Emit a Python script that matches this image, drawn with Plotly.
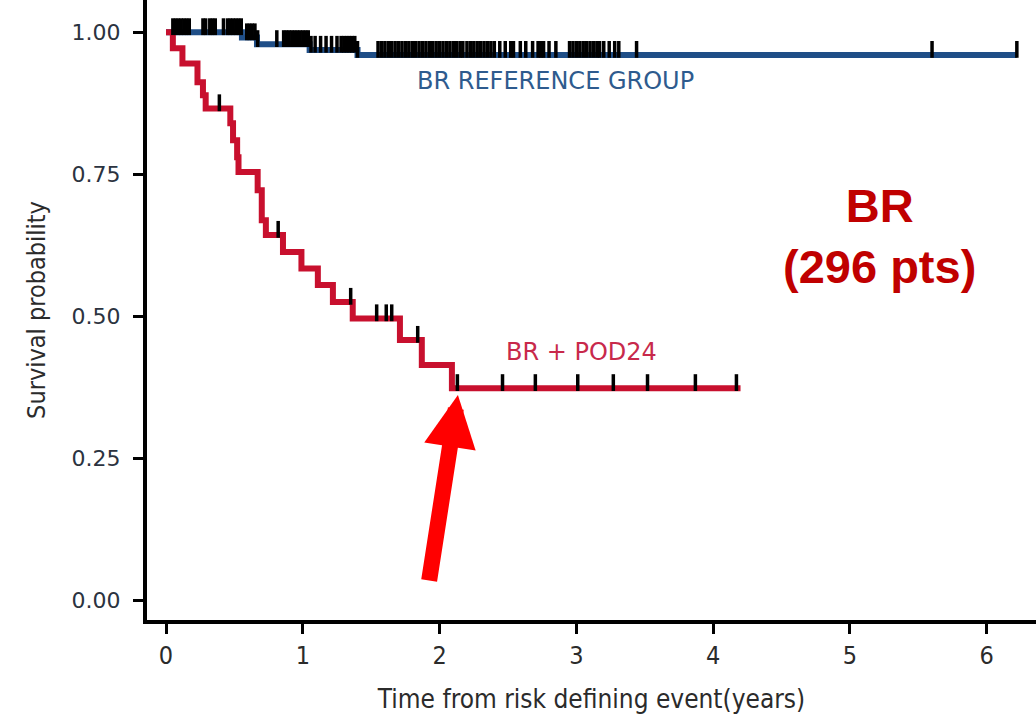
import plotly.graph_objects as go
import numpy as np

# ---------------- data ----------------
blue_times = [0.0, 0.555, 0.665, 1.05, 1.40, 6.22]
blue_surv = [1.0, 0.991, 0.979, 0.969, 0.960, 0.960]

red_times = [0.0, 0.05, 0.12, 0.23, 0.27, 0.29, 0.47, 0.49, 0.52, 0.53, 0.67,
             0.70, 0.73, 0.855, 0.99, 1.11, 1.22, 1.365, 1.71, 1.87, 2.09, 4.20]
red_surv = [1.0, 0.972, 0.945, 0.912, 0.889, 0.866, 0.84, 0.81, 0.78, 0.754, 0.722,
            0.669, 0.643, 0.613, 0.584, 0.555, 0.525, 0.496, 0.458, 0.414, 0.373, 0.373]

blue_censor = [0.05, 0.07, 0.09, 0.11, 0.13, 0.15, 0.17,
               0.27, 0.29, 0.32, 0.34, 0.36, 0.42, 0.45, 0.47, 0.49, 0.51, 0.53, 0.55,
               0.59, 0.61, 0.63, 0.65, 0.67, 0.81,
               0.86, 0.88, 0.90, 0.92, 0.94, 0.96, 0.98, 1.00, 1.02, 1.04, 1.06,
               1.09, 1.13, 1.17, 1.21, 1.25, 1.28, 1.30, 1.32, 1.34, 1.36, 1.38, 1.40,
               1.55, 1.575, 1.60, 1.625, 1.65, 1.675, 1.70, 1.725, 1.75, 1.775, 1.80,
               1.825, 1.85, 1.875, 1.90, 1.925, 1.95, 1.975, 2.00, 2.025, 2.05, 2.075,
               2.10, 2.125, 2.15, 2.17,
               2.20, 2.225, 2.25, 2.275, 2.30, 2.325, 2.35, 2.375, 2.40, 2.44, 2.48,
               2.52, 2.54, 2.59, 2.63, 2.68, 2.72, 2.74, 2.76, 2.80, 2.85,
               2.95, 2.975, 3.00, 3.025, 3.05, 3.075, 3.10, 3.125, 3.15, 3.17,
               3.20, 3.24, 3.28, 3.31, 3.44, 5.60, 6.22]
red_censor = [0.39, 0.82, 1.35, 1.54, 1.61, 1.65, 1.84, 2.13, 2.46, 2.70, 3.01,
              3.27, 3.52, 3.87, 4.17]

x_ticks = [0, 1, 2, 3, 4, 5, 6]
y_ticks = [0.0, 0.25, 0.50, 0.75, 1.00]

group_labels = ["BR REFERENCE GROUP", "BR + POD24"]
panel_label = ["BR", "(296 pts)"]
x_title = "Time from risk defining event(years)"
y_title = "Survival probability"

# ---------------- style ----------------
BLUE = "#1f4e87"
RED = "#c8102e"
TICK_OFFSET = 0.0100  # lift censor ticks so they sit on top of the line
NARROW = "Liberation Sans Narrow, DejaVu Sans Condensed"


def step_value(times, surv, t):
    idx = np.searchsorted(np.array(times), t, side="right") - 1
    return surv[max(idx, 0)]


fig = go.Figure()
fig.add_trace(go.Scatter(x=blue_times, y=blue_surv, mode="lines", line_shape="hv",
                         line=dict(color=BLUE, width=6), showlegend=False, hoverinfo="skip"))
fig.add_trace(go.Scatter(x=red_times, y=red_surv, mode="lines", line_shape="hv",
                         line=dict(color=RED, width=6), showlegend=False, hoverinfo="skip"))

for times, surv, cens in [(blue_times, blue_surv, blue_censor), (red_times, red_surv, red_censor)]:
    cy = [step_value(times, surv, t) + TICK_OFFSET for t in cens]
    fig.add_trace(go.Scatter(x=cens, y=cy, mode="markers",
                             marker=dict(symbol="line-ns", size=12,
                                         line=dict(color="black", width=3.5)),
                             showlegend=False, hoverinfo="skip"))

fig.add_annotation(x=2.85, y=0.9145, text=group_labels[0], showarrow=False,
                   xanchor="center", yanchor="middle",
                   font=dict(family="DejaVu Sans", size=24, color="#2e5b8e"))
fig.add_annotation(x=3.04, y=0.437, text=group_labels[1], showarrow=False,
                   xanchor="center", yanchor="middle",
                   font=dict(family="DejaVu Sans", size=24, color="#c8294b"))
fig.add_annotation(xref="paper", yref="paper", x=0.8245, y=0.62,
                   xanchor="center", yanchor="middle",
                   text="<b>" + panel_label[0] + "</b><br><b>" + panel_label[1] + "</b>",
                   showarrow=False, align="center",
                   font=dict(family="Liberation Sans, Arial", size=47, color="#c00000"))
fig.add_annotation(x=2.134, y=0.361, text="", showarrow=True, arrowhead=2,
                   arrowwidth=16, arrowsize=0.65, arrowcolor="#ff0000",
                   ax=-29, ay=187, standoff=0)

fig.update_layout(
    width=1036, height=721,
    margin=dict(l=147, r=0, t=0, b=101),
    plot_bgcolor="white", paper_bgcolor="white",
    xaxis=dict(range=[-0.139, 6.36], tickvals=x_ticks, ticks="outside", ticklen=10,
               tickwidth=2.5, tickcolor="black", showline=True, linewidth=4,
               linecolor="black", showgrid=False, zeroline=False,
               tickfont=dict(family=NARROW, size=25, color="#2b2b2b"),
               title=dict(text=x_title, standoff=22,
                          font=dict(family=NARROW, size=26, color="#2b2b2b"))),
    yaxis=dict(range=[-0.0352, 1.057], tickvals=y_ticks, tickformat=".2f",
               ticks="outside", ticklen=10, tickwidth=2.5, tickcolor="black",
               showline=True, linewidth=4, linecolor="black", showgrid=False,
               zeroline=False, ticklabelstandoff=8,
               tickfont=dict(family="DejaVu Sans", size=22, color="#2b3340"),
               title=dict(text=y_title, standoff=20,
                          font=dict(family=NARROW, size=25, color="#2b2b2b"))),
)

fig.write_html("out.html", config={"displayModeBar": False},
               post_script="document.body.style.margin='0px';document.body.style.overflow='hidden';")
